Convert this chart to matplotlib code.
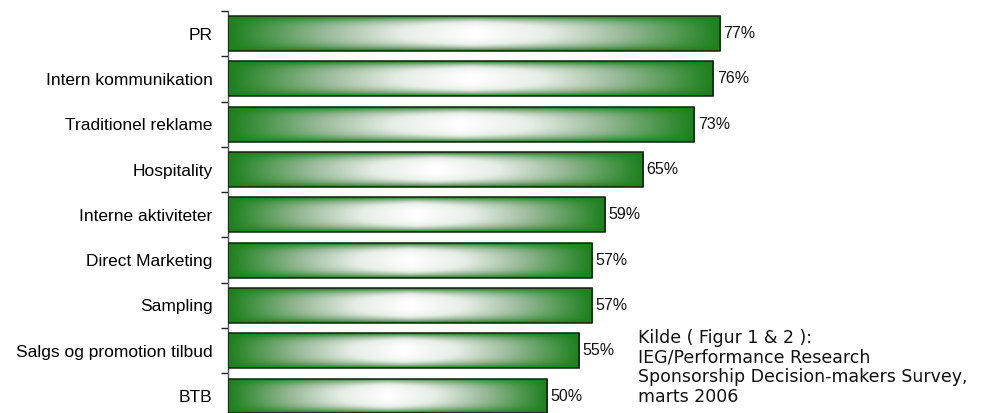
import numpy as np
import matplotlib
matplotlib.use("Agg")
import matplotlib.pyplot as plt
from matplotlib.colors import LinearSegmentedColormap

# === Data ===
categories = [
    "PR",
    "Intern kommunikation",
    "Traditionel reklame",
    "Hospitality",
    "Interne aktiviteter",
    "Direct Marketing",
    "Sampling",
    "Salgs og promotion tilbud",
    "BTB",
]
values = [77, 76, 73, 65, 59, 57, 57, 55, 50]
value_labels = ["77%", "76%", "73%", "65%", "59%", "57%", "57%", "55%", "50%"]
source_lines = [
    "Kilde ( Figur 1 & 2 ):",
    "IEG/Performance Research",
    "Sponsorship Decision-makers Survey,",
    "marts 2006",
]

# === Figure ===
fig = plt.figure(figsize=(9.84, 4.13), dpi=100)
ax = fig.add_axes([0.2314, -0.0138, 0.6494, 0.9872])

y_pos = np.arange(len(categories))
bars = ax.barh(y_pos, values, height=0.77, color="none",
               edgecolor="#0d260d", linewidth=1.1, zorder=3)

# "from center" gradient: green at the border, white in the middle
green_cmap = LinearSegmentedColormap.from_list(
    "grn", [(0.0, "#ffffff"), (0.3, "#e6ede6"), (0.62, "#96b896"),
            (1.0, "#1c801c")])
nx, ny = 300, 40
u = np.linspace(-1, 1, nx)
v = np.linspace(-1, 1, ny)
U, V = np.meshgrid(u, v)
grad = 1 - (1 - np.abs(U)) * (1 - np.abs(V) ** 3)

for bar in bars:
    x0, y0 = bar.get_x(), bar.get_y()
    w, h = bar.get_width(), bar.get_height()
    im = ax.imshow(grad, cmap=green_cmap, vmin=0, vmax=1, aspect="auto",
                   extent=[x0, x0 + w, y0 + h, y0], interpolation="bilinear",
                   zorder=2)
    im.set_clip_path(bar)

for yi, val, lab in zip(y_pos, values, value_labels):
    ax.annotate(lab, (val, yi), xytext=(2.5, 0), textcoords="offset points",
                va="center", ha="left", fontsize=11.5,
                family="Liberation Sans", color="#111111")

ax.set_xlim(0, 100)
ax.set_ylim(len(categories) - 0.5, -0.5)

ax.set_yticks(y_pos)
ax.set_yticklabels(categories, fontsize=12.5, family="Liberation Sans")
ax.set_yticks(np.arange(len(categories) + 1) - 0.5, minor=True)
ax.tick_params(axis="y", which="major", length=0, pad=11)
ax.tick_params(axis="y", which="minor", length=5, width=1, color="#222222")
ax.set_xticks([])

for side in ["top", "right", "bottom"]:
    ax.spines[side].set_visible(False)
ax.spines["left"].set_color("#555555")
ax.spines["left"].set_linewidth(1)

fig.text(638 / 984, 1 - 329 / 413, "\n".join(source_lines),
         ha="left", va="top", fontsize=12.5, family="DejaVu Sans",
         color="#111111", linespacing=1.12)

fig.savefig("out.png", dpi=100)
